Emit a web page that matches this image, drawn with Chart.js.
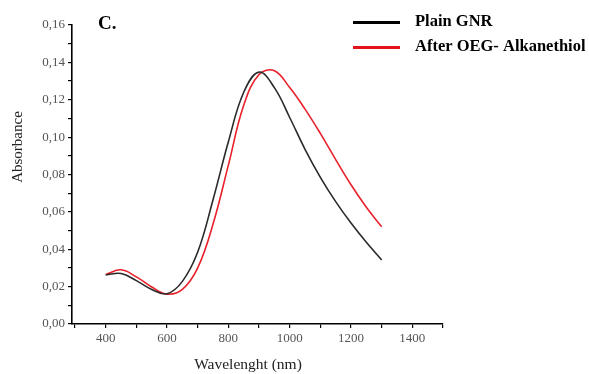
<!DOCTYPE html>
<html>
<head>
<meta charset="utf-8">
<script src="https://cdn.jsdelivr.net/npm/chart.js@4/dist/chart.umd.min.js"></script>
<style>
  html, body { margin: 0; padding: 0; background: #fff; }
  #wrap { position: relative; width: 589px; height: 374px; }
</style>
</head>
<body>
<div id="wrap"><canvas id="myChart" width="589" height="374"></canvas></div>
<script>
(function () {
  'use strict'

  // Data (every 50 nm)
  var wavelengths = [400, 450, 500, 550, 600, 650, 700, 750, 800, 850, 900, 950, 1000, 1050, 1100, 1150, 1200, 1250, 1300]
  var plainAbs = [0.0262, 0.0270, 0.0232, 0.0185, 0.0162, 0.0228, 0.0385, 0.0665, 0.0975, 0.1240, 0.1348, 0.1265, 0.1105, 0.0935, 0.0785, 0.0655, 0.0540, 0.0437, 0.0343]
  var oegAbs = [0.0265, 0.0290, 0.0252, 0.0198, 0.0160, 0.0185, 0.0300, 0.0535, 0.0850, 0.1170, 0.1335, 0.1355, 0.1265, 0.1150, 0.1020, 0.0880, 0.0745, 0.0625, 0.0520]
  var seriesNames = ['Plain GNR', 'After OEG- Alkanethiol']
  var seriesColors = ['#2a2a2a', '#e8212b']
  var legendColors = ['#000000', '#e3121b']
  var xTicks = [300, 400, 500, 600, 700, 800, 900, 1000, 1100, 1200, 1300, 1400, 1500]
  var xLabels = [400, 600, 800, 1000, 1200, 1400]
  var yTicks = [0, 0.01, 0.02, 0.03, 0.04, 0.05, 0.06, 0.07, 0.08, 0.09, 0.10, 0.11, 0.12, 0.13, 0.14, 0.15, 0.16]

  function pts(xs, ys) {
    return xs.map(function (x, i) { return { x: x, y: ys[i] } })
  }

  var serif = '"Liberation Serif", "DejaVu Serif", serif'

  // legend, panel letter and axis titles
  var decor = {
    id: 'decor',
    afterDraw: function (chart) {
      var c = chart.ctx
      c.save()
      c.fillStyle = '#000'
      c.font = 'bold 19px ' + serif
      c.textBaseline = 'alphabetic'
      c.fillText('C.', 98, 29)
      var rows = [22.5, 47.5]
      rows.forEach(function (y, i) {
        c.strokeStyle = legendColors[i]
        c.lineWidth = 3
        c.beginPath()
        c.moveTo(353, y)
        c.lineTo(400, y)
        c.stroke()
        c.fillStyle = '#000'
        c.font = 'bold 16.5px ' + serif
        c.textBaseline = 'middle'
        c.fillText(seriesNames[i], 415, y - 1)
      })
      // axis titles
      c.fillStyle = '#222'
      c.font = '15.5px ' + serif
      c.textAlign = 'center'
      c.textBaseline = 'middle'
      c.fillText('Wavelenght (nm)', 248, 365)
      c.translate(18, 147)
      c.rotate(-Math.PI / 2)
      c.font = '15px ' + serif
      c.fillText('Absorbance', 0, 0)
      c.restore()
    }
  }

  var ctx = document.getElementById('myChart')
  const config = {
    type: 'line',
    data: {
      datasets: [{
          label: seriesNames[0],
          data: pts(wavelengths, plainAbs),
          borderColor: seriesColors[0],
          borderWidth: 1.6,
          pointRadius: 0,
          tension: 0.4,
          fill: false
      }, {
          label: seriesNames[1],
          data: pts(wavelengths, oegAbs),
          borderColor: seriesColors[1],
          borderWidth: 1.6,
          pointRadius: 0,
          tension: 0.4,
          fill: false
      }]
    },
    options: {
      responsive: false,
      animation: false,
      layout: { padding: { left: 0, right: 146, top: 25, bottom: 0 } },
      scales: {
        x: {
          type: 'linear',
          min: 290,
          max: 1500,
          afterBuildTicks: function (scale) {
            scale.ticks = xTicks.map(function (v) { return { value: v } })
          },
          afterFit: function (scale) { scale.height = 50 },
          border: { display: true, color: '#000', width: 1.6 },
          grid: { drawOnChartArea: false, drawTicks: true, tickLength: 4, color: '#000', lineWidth: 1.2 },
          ticks: {
            autoSkip: false,
            maxRotation: 0,
            padding: 3,
            color: '#555',
            font: { family: serif, size: 13 },
            callback: function (value) {
              return xLabels.indexOf(value) >= 0 ? String(value) : ''
            }
          }
        },
        y: {
          type: 'linear',
          min: 0,
          max: 0.16,
          afterBuildTicks: function (scale) {
            scale.ticks = yTicks.map(function (v) { return { value: v } })
          },
          afterFit: function (scale) { scale.width = 72 },
          border: { display: true, color: '#000', width: 1.6 },
          grid: { drawOnChartArea: false, drawTicks: true, tickLength: 4, color: '#000', lineWidth: 1.2 },
          ticks: {
            autoSkip: false,
            padding: 3,
            color: '#555',
            font: { family: serif, size: 13 },
            callback: function (value, index) {
              return index % 2 === 0 ? value.toFixed(2).replace('.', ',') : ''
            }
          }
        }
      },
      plugins: {
        legend: { display: false },
        tooltip: { enabled: false }
      }
    },
    plugins: [decor]
  }
  var lineChart = new Chart(ctx, config)
}) ()
</script>
</body>
</html>
